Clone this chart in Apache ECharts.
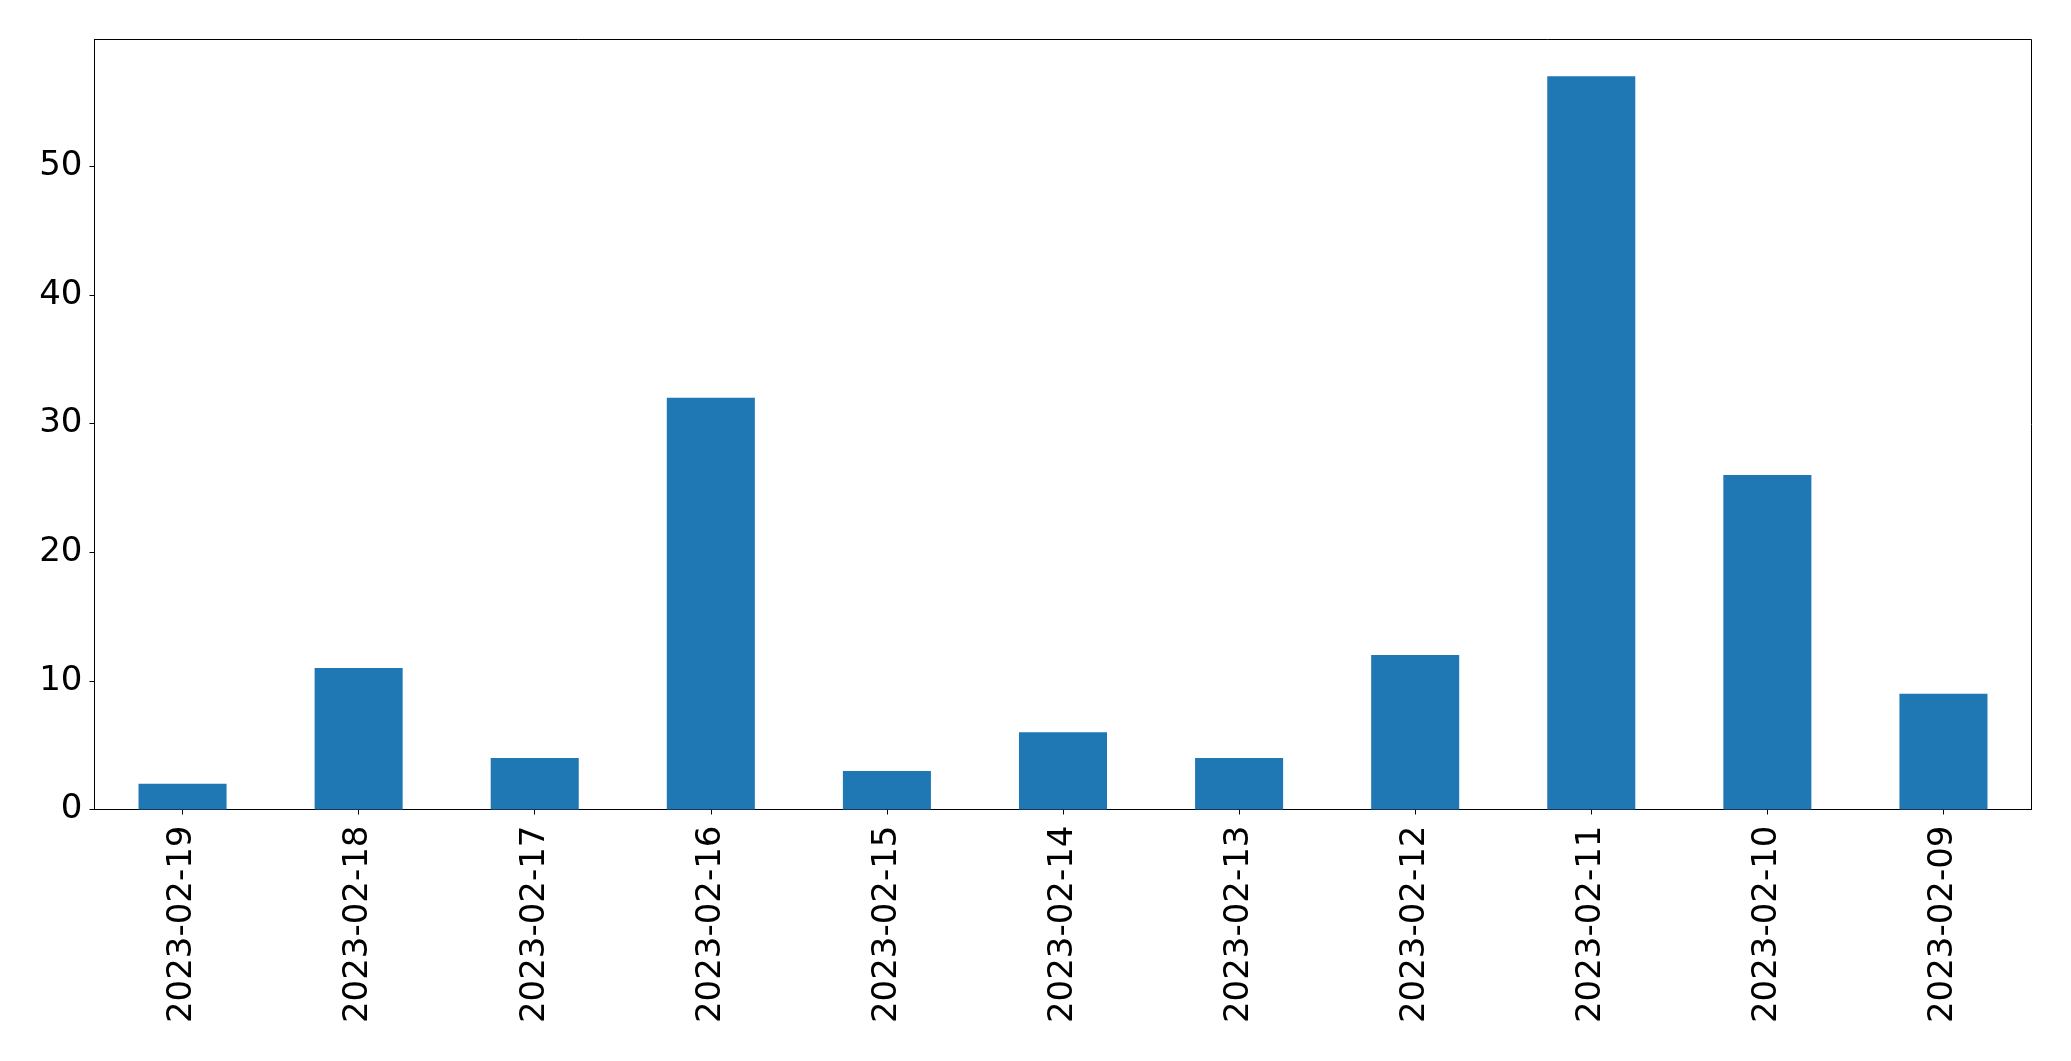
<!DOCTYPE html>
<html>
<head>
<meta charset="utf-8">
<script src="https://cdn.jsdelivr.net/npm/echarts@6/dist/echarts.min.js"></script>
<style>
html,body{margin:0;padding:0;background:#fff;}
#chart{width:2071px;height:1061px;}
</style>
</head>
<body>
<div id="chart"></div>
<script>
const categories = ["2023-02-19","2023-02-18","2023-02-17","2023-02-16","2023-02-15","2023-02-14","2023-02-13","2023-02-12","2023-02-11","2023-02-10","2023-02-09"];
const values = [2, 11, 4, 32, 3, 6, 4, 12, 57, 26, 9];
const yTicks = [0, 10, 20, 30, 40, 50];

const chart = echarts.init(document.getElementById('chart'), null, {renderer: 'canvas'});
const font = 'DejaVu Sans';
chart.setOption({
  backgroundColor: '#ffffff',
  animation: false,
  grid: {
    left: 94.5, right: 39.5, top: 39.5, bottom: 251.5,
    show: true, borderColor: '#000', borderWidth: 1, backgroundColor: 'transparent'
  },
  xAxis: {
    type: 'category',
    data: categories,
    boundaryGap: true,
    axisLine: {show: true, lineStyle: {color: '#000', width: 1}},
    axisTick: {show: true, alignWithLabel: true, length: 5, lineStyle: {color: '#000', width: 1}},
    axisLabel: {rotate: 90, margin: 16, color: '#000', fontFamily: font, fontSize: 34, interval: 0},
    splitLine: {show: false}
  },
  yAxis: {
    type: 'value',
    min: 0, max: 59.85, interval: 10,
    axisLine: {show: true, lineStyle: {color: '#000', width: 1}},
    axisTick: {show: true, length: 5, lineStyle: {color: '#000', width: 1}, customValues: yTicks},
    axisLabel: {margin: 12, color: '#000', fontFamily: font, fontSize: 34, customValues: yTicks},
    splitLine: {show: false}
  },
  series: [{
    type: 'bar',
    data: values,
    barWidth: '50%',
    itemStyle: {color: '#1f77b4'}
  }]
});
</script>
</body>
</html>
